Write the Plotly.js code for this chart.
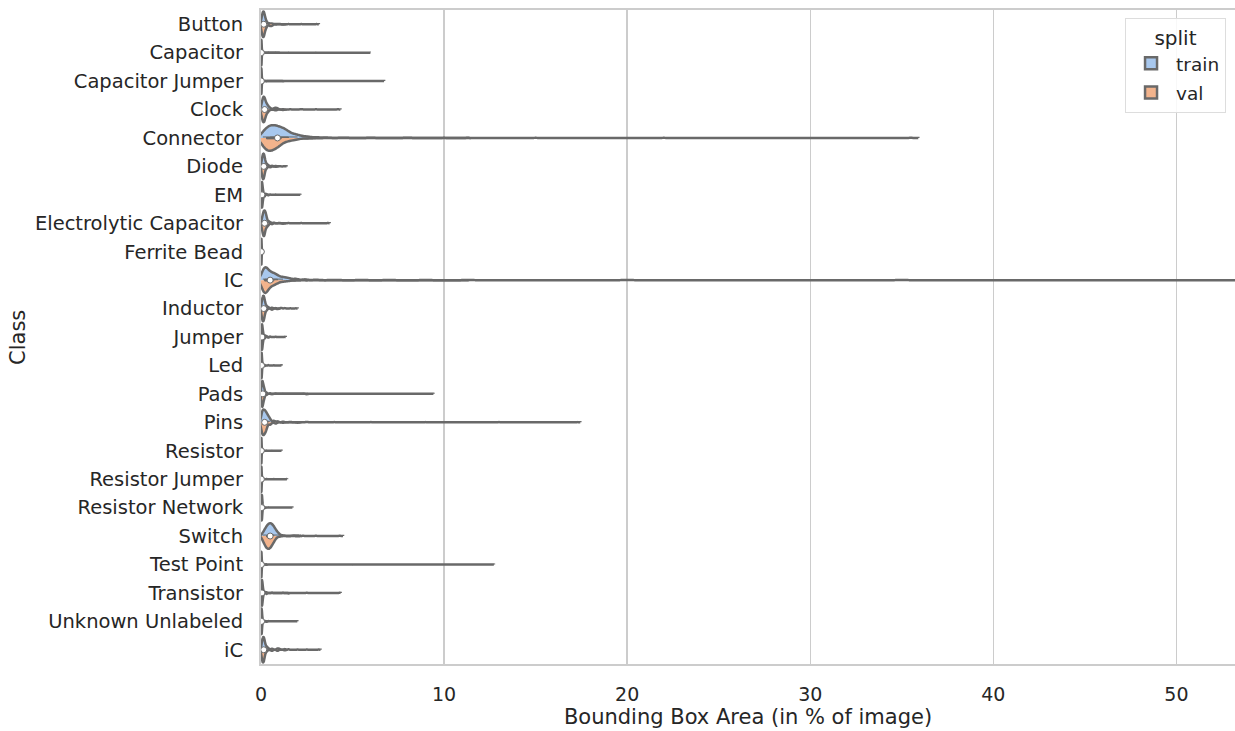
<!DOCTYPE html>
<html>
<head>
<meta charset="utf-8">
<script src="https://cdn.plot.ly/plotly-3.0.1.min.js"></script>
<style>html,body{margin:0;padding:0;background:#fff;}#chart{width:1235px;height:731px;}</style>
</head>
<body>
<div id="chart"></div>
<script>
// Classes (top to bottom)
const categories = ["Button","Capacitor","Capacitor Jumper","Clock","Connector","Diode","EM",
  "Electrolytic Capacitor","Ferrite Bead","IC","Inductor","Jumper","Led","Pads","Pins","Resistor",
  "Resistor Jumper","Resistor Network","Switch","Test Point","Transistor","Unknown Unlabeled","iC"];

// Bounding box area (% of image): [value, count] pairs — train split
const trainBins = [
  [[0.05,30],[0.1,50],[0.15,50],[0.2,40],[0.3,20],[0.45,8],[0.6,6],[0.8,3],[1.0,2],[1.5,1],[2.2,1],[3.04,1]],
  [[0.01,100],[0.02,200],[0.03,150],[0.05,60],[0.08,20],[0.12,8],[0.2,4],[0.4,2],[0.8,1],[1.5,1],[3,1],[5.96,1]],
  [[0.01,100],[0.02,200],[0.03,150],[0.05,60],[0.08,20],[0.12,8],[0.2,4],[0.4,2],[0.8,1],[1.6,1],[2.8,1],[4.5,1],[6.7,1]],
  [[0.05,10],[0.1,20],[0.15,25],[0.2,25],[0.3,18],[0.4,10],[0.5,5],[0.7,4],[0.8,6],[0.9,4],[1.2,1],[1.6,1],[2.2,2],[3,1],[4.2,1]],
  [[0.1,30],[0.3,50],[0.5,60],[0.7,60],[0.9,55],[1.1,50],[1.3,42],[1.5,35],[1.8,28],[2.1,20],[2.5,14],[3,8],[3.5,5],[4.5,3],[6,2],[8,2],[10,1],[11.3,1],[15,1],[22,1],[35.5,1]],
  [[0.05,15],[0.1,30],[0.15,30],[0.2,25],[0.3,12],[0.4,5],[0.6,3],[0.8,2],[1.0,1],[1.3,1]],
  [[0.02,40],[0.05,60],[0.08,40],[0.12,20],[0.2,10],[0.3,6],[0.5,3],[0.8,2],[1.2,1],[2.1,1]],
  [[0.05,10],[0.1,20],[0.15,30],[0.2,30],[0.25,25],[0.3,18],[0.4,10],[0.5,5],[0.7,3],[1.0,2],[1.5,1],[2.2,1],[3.65,1]],
  [[0.01,10],[0.02,20],[0.03,15],[0.05,5],[0.08,2],[0.1,1]],
  [[0.1,40],[0.2,60],[0.3,60],[0.5,55],[0.7,45],[0.9,38],[1.2,30],[1.5,22],[1.9,15],[2.4,9],[3,5],[4,3],[5.5,2],[7,2],[9,1],[11.3,1],[20,1],[35,1],[62,1]],
  [[0.05,15],[0.1,25],[0.15,25],[0.2,20],[0.3,10],[0.4,5],[0.6,4],[0.8,2],[1.1,3],[1.3,2],[1.6,1],[1.9,1]],
  [[0.02,30],[0.05,50],[0.08,35],[0.12,20],[0.2,12],[0.3,6],[0.5,3],[0.8,2],[1.3,1]],
  [[0.01,30],[0.03,50],[0.05,30],[0.08,12],[0.12,5],[0.2,3],[0.4,2],[0.7,1],[1.1,1]],
  [[0.03,30],[0.06,50],[0.1,50],[0.15,35],[0.2,20],[0.3,10],[0.5,5],[0.8,3],[1.2,2],[2.3,2],[4,1],[6,1],[9.35,1]],
  [[0.05,20],[0.1,35],[0.2,40],[0.3,30],[0.4,20],[0.5,12],[0.7,8],[0.9,5],[1.2,3],[1.6,2],[2.5,2],[4,1],[6,1],[9,1],[13,1],[17.3,1]],
  [[0.01,40],[0.02,60],[0.03,40],[0.05,15],[0.08,6],[0.15,3],[0.3,2],[0.6,1],[1.1,1]],
  [[0.01,30],[0.02,50],[0.03,40],[0.05,15],[0.08,6],[0.15,3],[0.3,2],[0.7,1],[1.4,1]],
  [[0.02,30],[0.04,50],[0.06,40],[0.09,15],[0.12,6],[0.2,3],[0.4,2],[0.8,1],[1.68,1]],
  [[0.1,8],[0.2,15],[0.3,22],[0.4,28],[0.5,30],[0.6,28],[0.7,22],[0.8,15],[0.9,9],[1.0,5],[1.2,3],[1.5,2],[1.8,3],[2.0,3],[2.3,1],[3,1],[4.3,1]],
  [[0.01,40],[0.02,70],[0.03,50],[0.05,20],[0.08,8],[0.15,3],[0.3,2],[0.8,1],[2,1],[5,1],[12.7,1]],
  [[0.02,30],[0.05,50],[0.08,35],[0.12,15],[0.2,8],[0.3,4],[0.6,2],[1.2,1],[2.5,1],[4.3,1]],
  [[0.01,30],[0.03,50],[0.05,35],[0.08,12],[0.12,5],[0.2,3],[0.4,2],[0.9,1],[1.95,1]],
  [[0.05,15],[0.1,25],[0.15,25],[0.2,20],[0.3,12],[0.4,6],[0.6,5],[0.9,5],[1.0,4],[1.3,3],[1.5,2],[2,1],[2.5,1],[3.15,1]]
];

// val split
const valBins = [
  [[0.05,10],[0.1,15],[0.15,12],[0.2,10],[0.3,6],[0.5,4],[0.6,3],[0.8,1],[1.2,1]],
  [[0.01,30],[0.02,60],[0.03,40],[0.05,15],[0.1,4],[0.3,1],[1.0,1]],
  [[0.01,30],[0.02,60],[0.03,40],[0.05,15],[0.1,4],[0.3,1],[1.2,1]],
  [[0.05,6],[0.1,10],[0.15,12],[0.2,10],[0.3,6],[0.4,3],[0.8,2],[1.2,1]],
  [[0.1,30],[0.3,45],[0.5,45],[0.7,40],[0.9,32],[1.1,25],[1.4,18],[1.7,12],[2.0,8],[2.5,4],[3.2,2],[5,1],[11,1]],
  [[0.05,8],[0.1,15],[0.15,12],[0.2,8],[0.3,4],[0.5,2],[0.8,1]],
  [[0.02,10],[0.05,15],[0.08,10],[0.12,5],[0.2,3],[0.4,1]],
  [[0.05,5],[0.1,10],[0.15,14],[0.2,14],[0.3,8],[0.4,4],[0.6,2],[1.2,1]],
  [[0.01,3],[0.02,6],[0.03,4],[0.05,1]],
  [[0.1,40],[0.2,60],[0.3,55],[0.5,40],[0.7,30],[0.9,22],[1.2,14],[1.5,9],[2,5],[2.5,3],[3.5,1],[6,1],[11,1]],
  [[0.05,8],[0.1,12],[0.15,10],[0.2,6],[0.3,3],[0.6,2],[0.9,1]],
  [[0.02,10],[0.05,15],[0.08,10],[0.12,5],[0.2,3],[0.4,1]],
  [[0.01,10],[0.03,15],[0.05,8],[0.1,3],[0.2,1]],
  [[0.03,12],[0.06,20],[0.1,18],[0.15,12],[0.2,6],[0.3,3],[0.6,1],[2.5,1]],
  [[0.05,10],[0.1,18],[0.2,18],[0.3,12],[0.5,6],[0.8,3],[1.2,1],[2,1]],
  [[0.01,12],[0.02,18],[0.03,10],[0.05,4],[0.1,1]],
  [[0.01,10],[0.02,15],[0.03,10],[0.05,4],[0.1,1]],
  [[0.02,10],[0.04,15],[0.06,10],[0.1,3],[0.2,1]],
  [[0.1,8],[0.2,14],[0.3,20],[0.4,22],[0.5,20],[0.6,15],[0.7,10],[0.8,5],[1.0,2],[1.5,1],[2,1]],
  [[0.01,12],[0.02,20],[0.03,14],[0.05,5],[0.1,2],[0.3,1]],
  [[0.02,10],[0.05,15],[0.08,10],[0.12,4],[0.3,2],[1.5,1]],
  [[0.01,10],[0.03,15],[0.05,10],[0.1,3],[0.3,1]],
  [[0.05,8],[0.1,12],[0.15,10],[0.2,6],[0.3,3],[0.6,2],[0.9,2],[1.3,1]]
];

// kernel bandwidth used for each class (smoothing setting)
const kdeBandwidth = [0.06,0.012,0.012,0.07,0.2,0.05,0.025,0.05,0.01,0.15,0.05,0.025,0.015,0.035,0.07,
  0.01,0.012,0.02,0.09,0.012,0.025,0.02,0.05];

const splitNames = ["train","val"];
const xTickVals = [0,10,20,30,40,50];

function expand(bins){
  const out=[]; bins.forEach(([v,c])=>{ for(let j=0;j<c;j++) out.push(v); }); return out;
}
function median(a){
  const s=a.slice().sort((p,q)=>p-q); const n=s.length;
  return n%2 ? s[(n-1)/2] : (s[n/2-1]+s[n/2])/2;
}

const lineCol = '#696969';
const fills = ['#a8c8ee','#f2b38c'];
const sides = ['negative','positive'];
const traces = [];
[trainBins, valBins].forEach((grp,k)=>{
  grp.forEach((bins,i)=>{
    const arr = expand(bins);
    traces.push({
      type:'violin', orientation:'h', x:arr, y:arr.map(()=>categories[i]), name:splitNames[k],
      side:sides[k], width:0.9, scalemode:'width', spanmode:'soft', bandwidth:kdeBandwidth[i],
      points:false, fillcolor:fills[k], opacity:1,
      line:{color:lineCol, width:2.5},
      box:{visible:true, width:0.3, fillcolor:lineCol, line:{color:lineCol, width:1}},
      meanline:{visible:false}, hoverinfo:'skip', legendgroup:splitNames[k],
      showlegend:i===0
    });
  });
});
const medians = categories.map((c,i)=>median(expand(trainBins[i]).concat(expand(valBins[i]))));
traces.push({
  type:'scatter', mode:'markers', x:medians, y:categories, showlegend:false, hoverinfo:'skip',
  marker:{color:'#ffffff', size:6, line:{color:lineCol, width:1}}
});

const layout = {
  width:1235, height:731,
  margin:{l:261, r:0, t:10, b:67},
  paper_bgcolor:'#fff', plot_bgcolor:'#fff',
  font:{family:'DejaVu Sans', color:'#262626', size:19},
  violinmode:'overlay', violingap:0, violingroupgap:0,
  xaxis:{
    range:[0,53.2], autorange:false, tickvals:xTickVals, ticktext:xTickVals.map(String),
    showgrid:true, gridcolor:'#cccccc', gridwidth:1.5, zeroline:false,
    showline:true, linecolor:'#cccccc', linewidth:2, mirror:true,
    ticks:'', ticklabelstandoff:12, tickfont:{size:19, color:'#262626'},
    title:{text:'Bounding Box Area (in % of image)', font:{size:21, color:'#262626'}, standoff:6}
  },
  yaxis:{
    type:'category', categoryorder:'array', categoryarray:categories,
    autorange:false, range:[22.5,-0.5],
    showgrid:false, zeroline:false, showline:true, linecolor:'#cccccc', linewidth:2,
    ticks:'', ticklabelstandoff:12, tickfont:{size:19.5, color:'#262626'}
  },
  annotations:[{
    text:'Class', xref:'paper', yref:'paper', x:-0.2495, y:0.5, xanchor:'center', yanchor:'middle',
    textangle:-90, showarrow:false, font:{size:21, color:'#262626'}
  }],
  legend:{
    x:0.9908, y:0.988, xanchor:'right', yanchor:'top',
    bgcolor:'rgba(255,255,255,0.85)', bordercolor:'#dddddd', borderwidth:1,
    title:{text:'split', font:{size:20}, side:'top center'},
    font:{size:18.5}, tracegroupgap:2, itemwidth:40
  },
  showlegend:true
};

Plotly.newPlot('chart', traces, layout, {displayModeBar:false, staticPlot:true});
</script>
</body>
</html>
